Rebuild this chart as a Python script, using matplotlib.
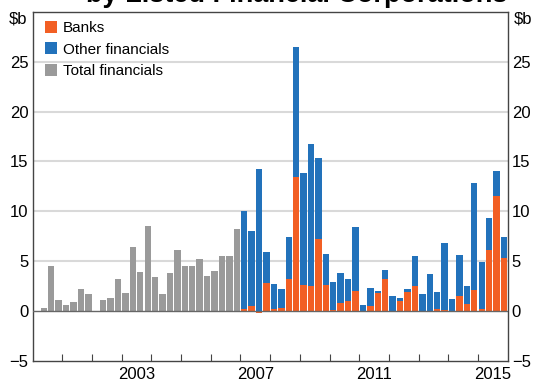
import numpy as np
import matplotlib
matplotlib.use("Agg")
from matplotlib import pyplot as plt

plt.rcParams['font.family'] = ['Liberation Sans', 'DejaVu Sans']

# quarterly equity raisings, $b
# total financials only: 2000Q1 - 2006Q4
total_fin = [0, 0.3, 4.5, 1.15, 0.6, 0.9, 2.2, 1.7,
             0, 1.1, 1.3, 3.2, 1.8, 6.4, 3.9, 8.55,
             3.4, 1.7, 3.85, 6.1, 4.55, 4.5, 5.25, 3.5,
             4.05, 5.5, 5.5, 8.2]

# split by type: 2007Q1 - 2015Q4
banks = [0.17, 0.5, -0.2, 2.83, 0.23, 0.3, 3.2, 13.4,
         2.63, 2.47, 7.23, 2.63, 0.07, 0.8, 1.0, 1.97,
         0.0, 0.5, 1.77, 3.2, 0.03, 1.0, 1.9, 2.55,
         0.0, 0.0, 0.17, 0.07, 0.0, 1.5, 0.7, 2.1,
         0.23, 6.13, 11.53, 5.37]
other_fin = [9.9, 7.53, 14.23, 3.14, 2.47, 1.9, 4.27, 13.1,
             11.24, 14.23, 8.14, 3.1, 2.86, 2.97, 2.17, 6.5,
             0.63, 1.83, 0.23, 0.87, 1.47, 0.27, 0.33, 2.95,
             1.7, 3.7, 1.73, 6.76, 1.17, 4.13, 1.77, 10.73,
             4.67, 3.17, 2.5, 2.03]

year_labels = ['2003', '2007', '2011', '2015']

ORANGE = '#f25f24'
BLUE = '#2272bb'
GREY = '#9a9a9a'

x_total = 2000 + (np.arange(len(total_fin)) + 0.5) / 4
x_split = 2007 + (np.arange(len(banks)) + 0.5) / 4
w = 0.25 * 0.86

fig = plt.figure(figsize=(5.34, 3.85), dpi=100)
ax = fig.add_axes([0.0612, 0.0623, 0.8895, 0.9073])

banks_arr = np.array(banks)
ax.bar(x_total, total_fin, width=w, color=GREY, label='Total financials', zorder=3)
ax.bar(x_split, banks, width=w, color=ORANGE, label='Banks', zorder=3)
ax.bar(x_split, other_fin, width=w, bottom=np.clip(banks_arr, 0, None),
       color=BLUE, label='Other financials', zorder=3)

ax.set_xlim(2000, 2016)
ax.set_ylim(-5, 30)

# grid and zero line
for v in [5, 10, 15, 20, 25]:
    ax.axhline(v, color='#d9d9d9', lw=1.5, zorder=1)
ax.axhline(0, color='#666666', lw=1, zorder=4)

for s in ax.spines.values():
    s.set_color('#444444')
    s.set_linewidth(1)

# y labels on both sides
ax.set_yticks([-5, 0, 5, 10, 15, 20, 25])
ax.tick_params(axis='y', length=0, labelsize=12, pad=3,
               left=True, right=True, labelleft=True, labelright=True)
ax.text(-0.012, 1.0, '$b', transform=ax.transAxes, ha='right', va='top', fontsize=12)
ax.text(1.012, 1.0, '$b', transform=ax.transAxes, ha='left', va='top', fontsize=12)

# year boundary ticks, labels mid-year
ax.set_xticks(np.arange(2001, 2016))
ax.set_xticklabels([])
ax.tick_params(axis='x', which='major', direction='in', length=5, color='#444444')
ax.set_xticks([int(y) + 0.5 for y in year_labels], minor=True)
ax.set_xticklabels(year_labels, minor=True)
ax.tick_params(axis='x', which='minor', length=0, labelsize=12, pad=4)

handles, labels = ax.get_legend_handles_labels()
order = [1, 2, 0]
ax.legend([handles[i] for i in order], [labels[i] for i in order],
          loc='upper left', bbox_to_anchor=(0.007, 1.0), frameon=False, fontsize=11,
          handlelength=0.8, handleheight=0.8, handletextpad=0.35,
          labelspacing=0.48, borderaxespad=0.2, borderpad=0.4)

# second line of the title, cut by the top edge as in the original
fig.text(297 / 534, 1 - 2 / 385, 'by Listed Financial Corporations',
         ha='center', va='baseline', fontsize=19.5, fontweight='bold')

fig.savefig('out.png', dpi=100)
